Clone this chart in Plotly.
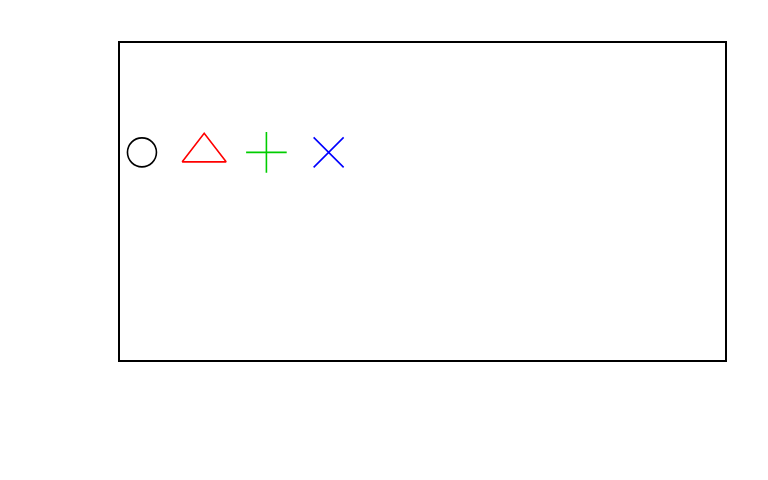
import plotly.graph_objects as go

# Data: four points, one per symbol
x_vals = [1, 2, 3, 4]
y_vals = [0.655, 0.655, 0.655, 0.655]
symbols = ["circle-open", "triangle-up-open", "cross-thin-open", "x-thin-open"]
colors = ["#000000", "#FF0000", "#00CD00", "#0000FF"]
sizes = [29, 38, 29, 30]

fig = go.Figure()
for x, y, s, c, sz in zip(x_vals, y_vals, symbols, colors, sizes):
    fig.add_trace(go.Scatter(
        x=[x], y=[y], mode="markers",
        marker=dict(symbol=s, size=sz, color=c, line=dict(color=c, width=1.6)),
        showlegend=False, hoverinfo="skip",
    ))

fig.update_layout(
    width=768, height=480,
    margin=dict(l=112, r=51, t=35, b=128),
    paper_bgcolor="white", plot_bgcolor="white",
    xaxis=dict(range=[0.647, 10.37], showgrid=False, zeroline=False, showticklabels=False,
               ticks="", showline=True, mirror=True, linecolor="black", linewidth=1.5),
    yaxis=dict(range=[0, 1], showgrid=False, zeroline=False, showticklabels=False,
               ticks="", showline=True, mirror=True, linecolor="black", linewidth=1.5),
)

fig.write_html("out.html")
